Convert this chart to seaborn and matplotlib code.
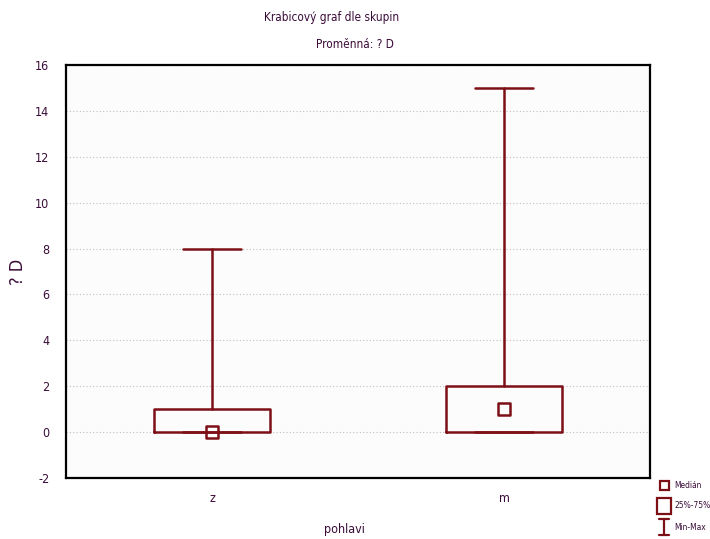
import matplotlib
matplotlib.use("Agg")
import matplotlib.pyplot as plt
from matplotlib.lines import Line2D
from matplotlib.patches import Rectangle
import seaborn as sns
import pandas as pd

# Group summaries for variable "? D" by pohlavi
groups = ["z", "m"]
minimum = [0, 0]
q1 = [0, 0]
median = [0, 1]
q3 = [1, 2]
maximum = [8, 15]

sns.set_style("white")
plt.rcParams["font.family"] = ["DejaVu Sans"]
plt.rcParams["font.stretch"] = "condensed"
plt.rcParams["axes.unicode_minus"] = False

BOX = "#7d0f16"
TXT = "#3a0b38"

fig = plt.figure(figsize=(7.10, 5.39), dpi=100)
ax = fig.add_axes([66 / 710, 61 / 539, 584 / 710, 413 / 539])
ax.set_facecolor("#fcfcfc")

stats = [
    dict(label=g, whislo=lo, q1=a, med=m, q3=b, whishi=hi, fliers=[])
    for g, lo, a, m, b, hi in zip(groups, minimum, q1, median, q3, maximum)
]
ax.bxp(
    stats, positions=range(len(groups)), widths=0.4, showfliers=False,
    boxprops=dict(color=BOX, linewidth=1.8),
    whiskerprops=dict(color=BOX, linewidth=1.8),
    capprops=dict(color=BOX, linewidth=1.8),
    medianprops=dict(linewidth=0),
    capwidths=0.2,
)

med_df = pd.DataFrame({"pos": range(len(groups)), "median": median})
sns.scatterplot(data=med_df, x="pos", y="median", marker="s", s=70,
                facecolor="none", edgecolor=BOX, linewidth=1.8, ax=ax, zorder=5)

ax.set_xlim(-0.5, 1.5)
ax.set_ylim(-2, 16)
ax.set_yticks(range(-2, 17, 2))
ax.set_xticks(range(len(groups)))
ax.set_xticklabels(groups)
ax.yaxis.grid(True, linestyle=(0, (1, 2)), color="#bdbdbd", linewidth=0.8)
ax.set_axisbelow(True)
for sp in ax.spines.values():
    sp.set_color("black")
    sp.set_linewidth(1.6)
ax.tick_params(direction="in", length=3, width=1, colors="black",
               labelcolor=TXT, labelsize=9, pad=12)
ax.tick_params(axis="x", pad=10)

ax.set_xlabel("pohlavi", fontsize=9, color=TXT)
ax.set_ylabel("? D", fontsize=13, color=TXT)
ax.xaxis.set_label_coords((344 - 66) / 584, (478 - 529) / 413)
ax.yaxis.set_label_coords((18 - 66) / 584, (478 - 272) / 413)
ax.xaxis.label.set_va("center")
ax.yaxis.label.set_va("center")

fig.text(332 / 710, 1 - 18 / 539, "Krabicový graf dle skupin",
         ha="center", va="center", fontsize=8.5, color=TXT)
fig.text(355 / 710, 1 - 44 / 539, "Proměnná: ? D",
         ha="center", va="center", fontsize=8.5, color=TXT)

# Legend keys below the plot, at the right edge
fig.add_artist(Rectangle((660 / 710, 1 - 490 / 539), 9 / 710, 9 / 539,
                         fill=False, edgecolor=BOX, linewidth=1.6))
fig.add_artist(Rectangle((657 / 710, 1 - 514 / 539), 14 / 710, 16 / 539,
                         fill=False, edgecolor=BOX, linewidth=1.6))
fig.add_artist(Line2D([664 / 710, 664 / 710], [1 - 519 / 539, 1 - 535 / 539],
                      color=BOX, linewidth=1.6))
fig.add_artist(Line2D([659 / 710, 669 / 710], [1 - 519 / 539, 1 - 519 / 539],
                      color=BOX, linewidth=1.6))
fig.add_artist(Line2D([659 / 710, 669 / 710], [1 - 535 / 539, 1 - 535 / 539],
                      color=BOX, linewidth=1.6))
for y, t in [(485, "Medián"), (506, "25%-75%"), (527, "Min-Max")]:
    fig.text(674 / 710, 1 - y / 539, t, ha="left", va="center",
             fontsize=6, color=TXT)

fig.savefig("out.png", dpi=100)
